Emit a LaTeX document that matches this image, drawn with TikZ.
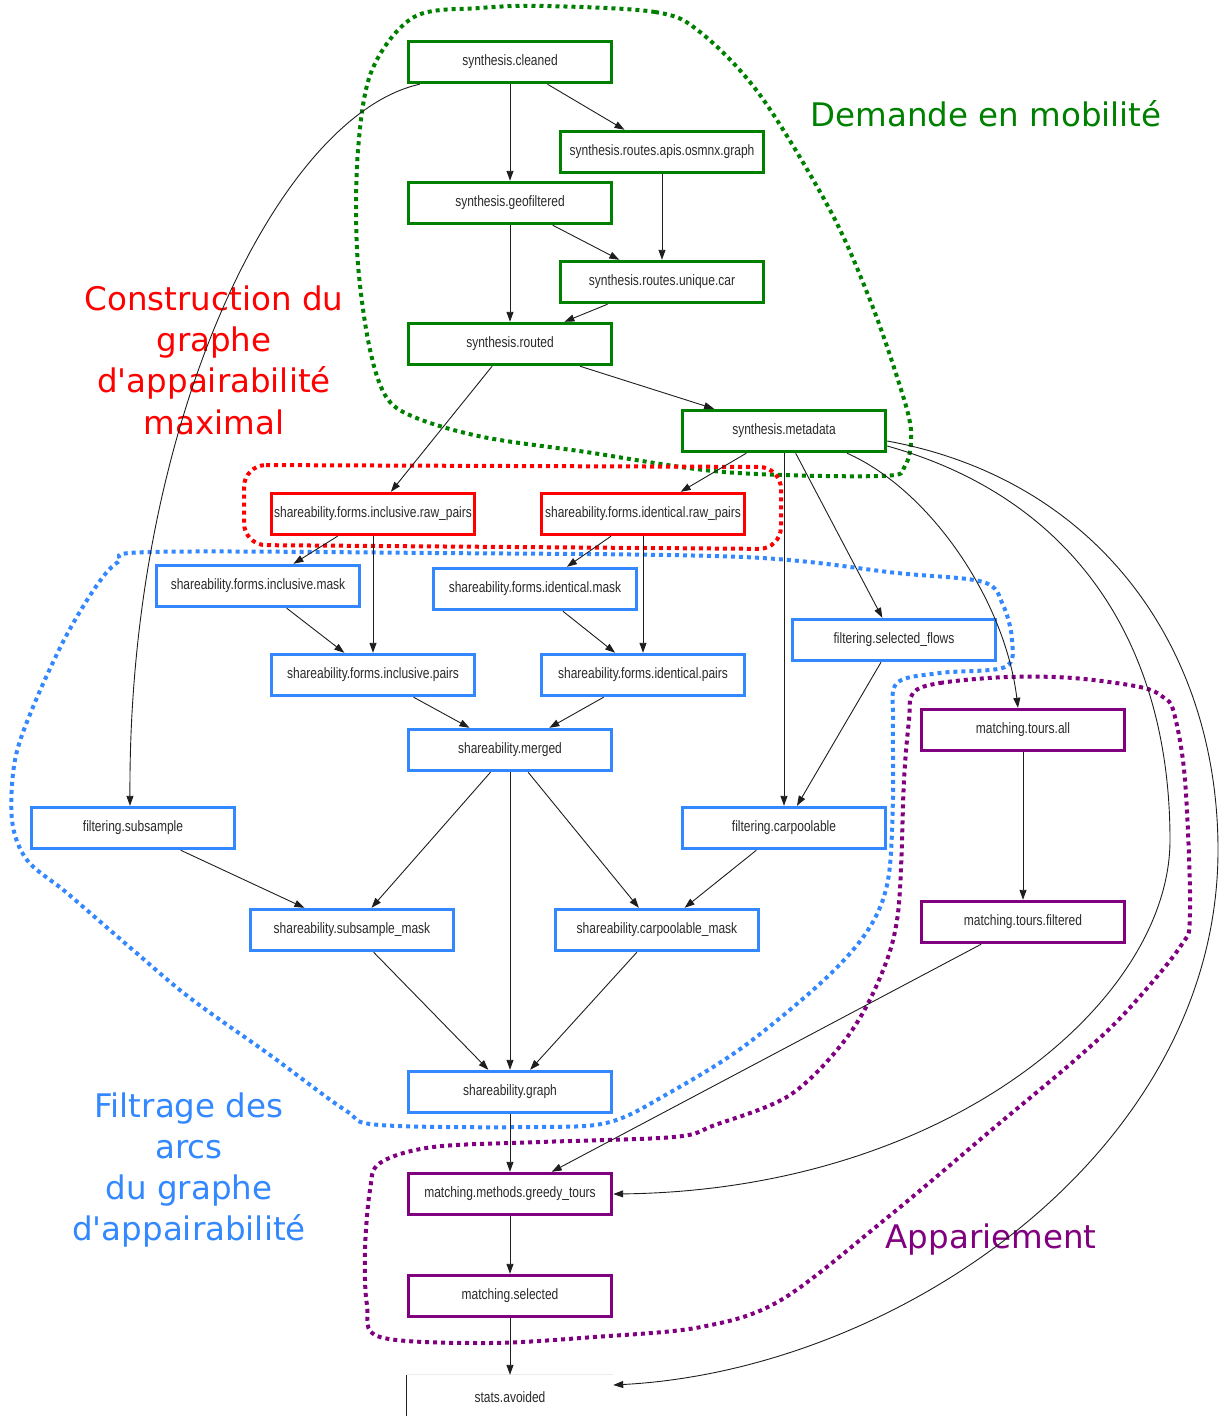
\documentclass[tikz,border=0pt]{standalone}
\usepackage{fontspec}
\setmainfont{DejaVu Sans}
\newfontfamily\nodefont[FakeStretch=0.8]{Liberation Sans}
\usetikzlibrary{arrows.meta}
\definecolor{cgreen}{HTML}{008000}
\definecolor{cred}{HTML}{FF0000}
\definecolor{cblue}{HTML}{3388FF}
\definecolor{cpurple}{HTML}{800080}
\definecolor{ctext}{HTML}{2A2A2A}
\definecolor{cedge}{HTML}{1E1E1E}
\tikzset{
  box/.style={draw, line width=3.4pt, fill=white, minimum width=203pt, minimum height=41pt,
    inner sep=0pt, font=\nodefont\fontsize{15}{15}\selectfont, text=ctext},
  gbox/.style={box, draw=cgreen},
  rbox/.style={box, draw=cred},
  bbox/.style={box, draw=cblue},
  pbox/.style={box, draw=cpurple},
  edge/.style={draw=cedge, line width=0.9pt, -{Triangle[length=10pt,width=7pt]}},
  cluster/.style={line width=4pt, dash pattern=on 4pt off 4pt},
  biglabel/.style={font=\fontsize{32.5}{41.3}\selectfont, align=center, inner sep=0pt}
}
\begin{document}
\begin{tikzpicture}[x=1pt,y=-1pt]
\useasboundingbox (0,0) rectangle (1223,1416);

% clusters
\draw[cluster, cgreen] plot[smooth cycle, tension=0.55] coordinates {
 (545,6) (655,12) (700,32) (760,95) (830,210) (870,300) (898,380) (911,430) (905,466) (880,476)
 (724,472) (586,452) (483,437) (414,417) (385,395) (368,340) (357,250) (358,150) (372,70) (414,17) (480,8)};
\draw[cluster, cred, rounded corners=22pt] (244,465) -- (781,467) -- (781,549) -- (244,545) -- cycle;
\draw[cluster, cblue] plot[smooth cycle, tension=0.55] coordinates {
 (150,552) (435,553) (743,557) (897,573) (983,582) (1003,605) (1012,640) (1005,667) (940,673)
 (897,683) (893,720) (893,797) (888,880) (868,930) (824,980) (743,1047) (669,1093) (610,1122)
 (540,1127) (380,1125) (345,1110) (270,1055) (190,998) (133,950) (67,893) (27,860) (12,820)
 (15,760) (33,707) (64,640) (95,588) (118,562)};
\draw[cluster, cpurple] plot[smooth cycle, tension=0.55] coordinates {
 (913,693) (940,683) (1007,677) (1073,678) (1140,687) (1163,697) (1174,713) (1185,780) (1190,913)
 (1180,947) (1125,1013) (1075,1060) (995,1127) (888,1217) (781,1300) (701,1327) (594,1337)
 (487,1343) (380,1337) (367,1305) (365,1250) (370,1190) (380,1163) (433,1147) (540,1142)
 (674,1137) (715,1125) (790,1095) (845,1040) (879,980) (898,913) (904,780) (909,720)};

% big labels
\node[biglabel, text=cgreen] (lgreen) at (986,114) {Demande en mobilité};
\node[biglabel, text=cred] (lred) at (214,360) {Construction du\\graphe\\d\textquotesingle appairabilité\\maximal};
\node[biglabel, text=cblue] (lblue) at (189,1170) {Filtrage des\\arcs\\du graphe\\d\textquotesingle appairabilité};
\node[biglabel, text=cpurple] (lpurple) at (991,1240) {Appariement};

% nodes
\node[gbox] (cleaned) at (510,62) {synthesis.cleaned};
\node[gbox] (osmnx) at (662,152) {synthesis.routes.apis.osmnx.graph};
\node[gbox] (geof) at (510,203) {synthesis.geofiltered};
\node[gbox] (ucar) at (662,282) {synthesis.routes.unique.car};
\node[gbox] (routed) at (510,344) {synthesis.routed};
\node[gbox] (meta) at (784,431) {synthesis.metadata};
\node[rbox] (incraw) at (373,514) {shareability.forms.inclusive.raw\_pairs};
\node[rbox] (idraw) at (643,514) {shareability.forms.identical.raw\_pairs};
\node[bbox] (incmask) at (258,586) {shareability.forms.inclusive.mask};
\node[bbox] (idmask) at (535,589) {shareability.forms.identical.mask};
\node[bbox] (selflows) at (894,640) {filtering.selected\_flows};
\node[bbox] (incpairs) at (373,675) {shareability.forms.inclusive.pairs};
\node[bbox] (idpairs) at (643,675) {shareability.forms.identical.pairs};
\node[pbox] (toursall) at (1023,730) {matching.tours.all};
\node[bbox] (merged) at (510,750) {shareability.merged};
\node[bbox] (subsample) at (133,828) {filtering.subsample};
\node[bbox] (carpool) at (784,828) {filtering.carpoolable};
\node[pbox] (toursfilt) at (1023,922) {matching.tours.filtered};
\node[bbox] (submask) at (352,930) {shareability.subsample\_mask};
\node[bbox] (carpmask) at (657,930) {shareability.carpoolable\_mask};
\node[bbox] (graph) at (510,1092) {shareability.graph};
\node[pbox] (greedy) at (510,1194) {matching.methods.greedy\_tours};
\node[pbox] (selected) at (510,1296) {matching.selected};
\node[box, draw=none] (stats) at (510,1397) {stats.avoided};
\draw[gray!15, line width=0.8pt] (stats.north west) -- (stats.north east);
\draw[cedge, line width=0.8pt] (stats.north west) -- (stats.south west);

% edges
\draw[edge] (cleaned) -- (geof);
\draw[edge] (cleaned) -- (osmnx);
\draw[edge] ([xshift=13pt]cleaned.south west) .. controls (280,115) and (128,420) .. ([xshift=-3pt]subsample.north);
\draw[edge] (geof) -- (ucar);
\draw[edge] (osmnx) -- (ucar);
\draw[edge] (geof) -- (routed);
\draw[edge] (ucar) -- (routed);
\draw[edge] (routed) -- (meta);
\draw[edge] (routed) -- (incraw);
\draw[edge] (meta) -- (idraw);
\draw[edge] (meta) -- (carpool);
\draw[edge] (meta) -- (selflows);
\draw[edge] ([xshift=63pt]meta.south) .. controls (930,490) and (1005,600) .. ([xshift=-5pt]toursall.north);
\draw[edge] ([yshift=-15pt]meta.east) .. controls (1080,500) and (1170,650) .. (1170,840)
   .. controls (1170,1000) and (950,1190) .. (greedy.east);
\draw[edge] ([yshift=-10pt]meta.east) .. controls (1100,480) and (1218,650) .. (1218,850)
   .. controls (1218,1150) and (900,1370) .. ([yshift=12pt]stats.east);
\draw[edge] (selflows) -- (carpool);
\draw[edge] (incraw) -- (incmask);
\draw[edge] (incraw) -- (incpairs);
\draw[edge] (idraw) -- (idmask);
\draw[edge] (idraw) -- (idpairs);
\draw[edge] (incmask) -- (incpairs);
\draw[edge] (idmask) -- (idpairs);
\draw[edge] (incpairs) -- (merged);
\draw[edge] (idpairs) -- (merged);
\draw[edge] (merged) -- (submask);
\draw[edge] (merged) -- (graph);
\draw[edge] (merged) -- (carpmask);
\draw[edge] (subsample) -- (submask);
\draw[edge] (carpool) -- (carpmask);
\draw[edge] (submask) -- (graph);
\draw[edge] (carpmask) -- (graph);
\draw[edge] (toursall) -- (toursfilt);
\draw[edge] (toursfilt) -- (greedy);
\draw[edge] (graph) -- (greedy);
\draw[edge] (greedy) -- (selected);
\draw[edge] (selected) -- (stats);
\end{tikzpicture}
\end{document}
